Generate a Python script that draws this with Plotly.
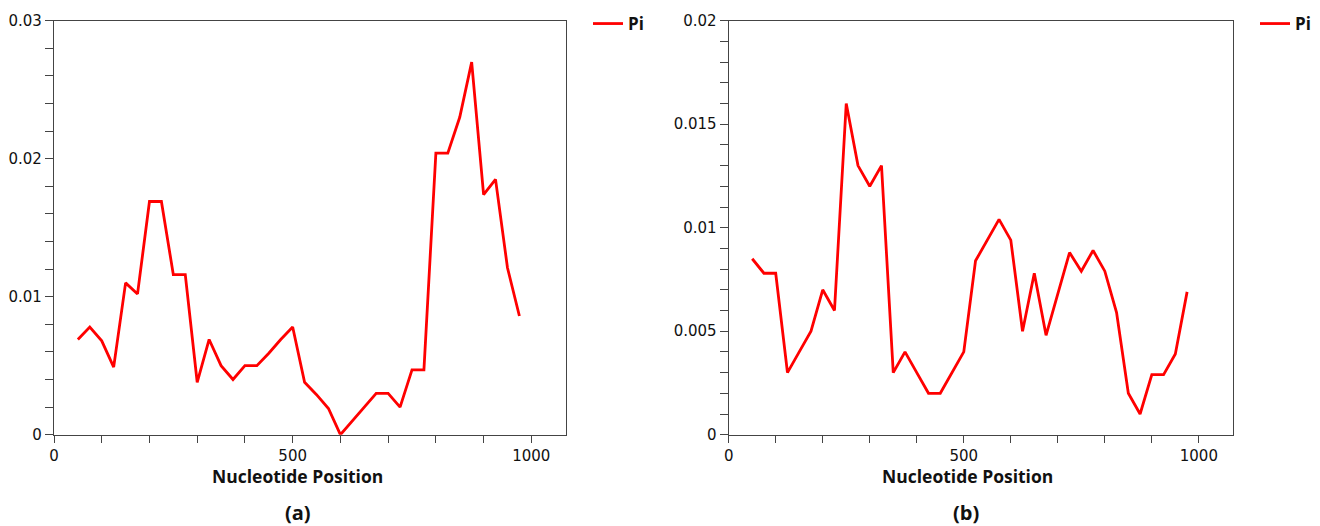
import plotly.graph_objects as go
from plotly.subplots import make_subplots

# nucleotide positions (window midpoints)
pos_a = [50, 75, 100, 125, 150, 175, 200, 225, 250, 275, 300, 325, 350, 375, 400, 425, 450, 475, 500,
         525, 550, 575, 600, 625, 650, 675, 700, 725, 750, 775, 800, 825, 850, 875, 900, 925, 950, 975]
pi_a = [0.0069, 0.0078, 0.0068, 0.0049, 0.0110, 0.0102, 0.0169, 0.0169, 0.0116, 0.0116,
        0.0038, 0.0069, 0.0050, 0.0040, 0.0050, 0.0050, 0.0059, 0.0069, 0.0078,
        0.0038, 0.0029, 0.0019, 0.0, 0.0010, 0.0020, 0.0030, 0.0030, 0.0020, 0.0047, 0.0047,
        0.0204, 0.0204, 0.0230, 0.0270, 0.0174, 0.0185, 0.0121, 0.0086]

pos_b = pos_a
pi_b = [0.0085, 0.0078, 0.0078, 0.0030, 0.0040, 0.0050, 0.0070, 0.0060, 0.0160, 0.0130,
        0.0120, 0.0130, 0.0030, 0.0040, 0.0030, 0.0020, 0.0020, 0.0030, 0.0040,
        0.0084, 0.0094, 0.0104, 0.0094, 0.0050, 0.0078, 0.0048, 0.0068, 0.0088, 0.0079, 0.0089,
        0.0079, 0.0059, 0.0020, 0.0010, 0.0029, 0.0029, 0.0039, 0.0069]

W, H = 1320, 526
tick_font = dict(family="DejaVu Sans", size=15, color="#111")
bold_font = dict(family="Open Sans", size=17.5, color="#111")

fig = make_subplots(rows=1, cols=2)

fig.add_trace(go.Scatter(x=pos_a, y=pi_a, mode="lines", name="<b>Pi</b>",
                         line=dict(color="#ff0000", width=2.8), legend="legend"), row=1, col=1)
fig.add_trace(go.Scatter(x=pos_b, y=pi_b, mode="lines", name="<b>Pi</b>",
                         line=dict(color="#ff0000", width=2.8), legend="legend2"), row=1, col=2)

axis_common = dict(showgrid=False, zeroline=False, showline=True, linecolor="#444", linewidth=1.2,
                   mirror=True, ticks="outside", tickcolor="#444", tickfont=tick_font,
                   automargin=False)

fig.update_xaxes(axis_common, range=[0, 1072], dtick=500, ticklen=7,
                 minor=dict(dtick=100, ticks="outside", ticklen=7, tickcolor="#444"))
fig.update_xaxes(domain=[54 / W, 565.7 / W], row=1, col=1)
fig.update_xaxes(domain=[728.7 / W, 1232.7 / W], row=1, col=2)

y_dom = [1 - 434.7 / H, 1 - 20.7 / H]
fig.update_yaxes(axis_common, domain=y_dom, ticklen=8)
fig.update_yaxes(range=[0, 0.03], dtick=0.01,
                 minor=dict(dtick=0.002, ticks="outside", ticklen=8, tickcolor="#444"), row=1, col=1)
fig.update_yaxes(range=[0, 0.02], dtick=0.005,
                 minor=dict(dtick=0.001, ticks="outside", ticklen=8, tickcolor="#444"), row=1, col=2)

for cx, txt in [(297, "<b>Nucleotide Position</b>"), (968, "<b>Nucleotide Position</b>")]:
    fig.add_annotation(x=cx / W, y=1 - 476 / H, xref="paper", yref="paper", text=txt,
                       showarrow=False, font=bold_font, xanchor="center", yanchor="middle")
for cx, txt in [(298, "<b>(a)</b>"), (966, "<b>(b)</b>")]:
    fig.add_annotation(x=cx / W, y=1 - 512 / H, xref="paper", yref="paper", text=txt,
                       showarrow=False, font=dict(family="Open Sans", size=20, color="#111"),
                       xanchor="center", yanchor="middle")

legend_style = dict(xanchor="left", yanchor="top", bgcolor="rgba(0,0,0,0)",
                    font=dict(family="Open Sans", size=17, color="#111"), itemwidth=30)
fig.update_layout(
    width=W, height=H, margin=dict(l=0, r=0, t=0, b=0, autoexpand=False),
    plot_bgcolor="white", paper_bgcolor="white", showlegend=True,
    legend=dict(legend_style, x=588 / W, y=1 - 6 / H),
    legend2=dict(legend_style, x=1255 / W, y=1 - 6 / H),
)

fig.write_html("out.html", config={"displayModeBar": False},
               post_script="document.body.style.margin='0';")
